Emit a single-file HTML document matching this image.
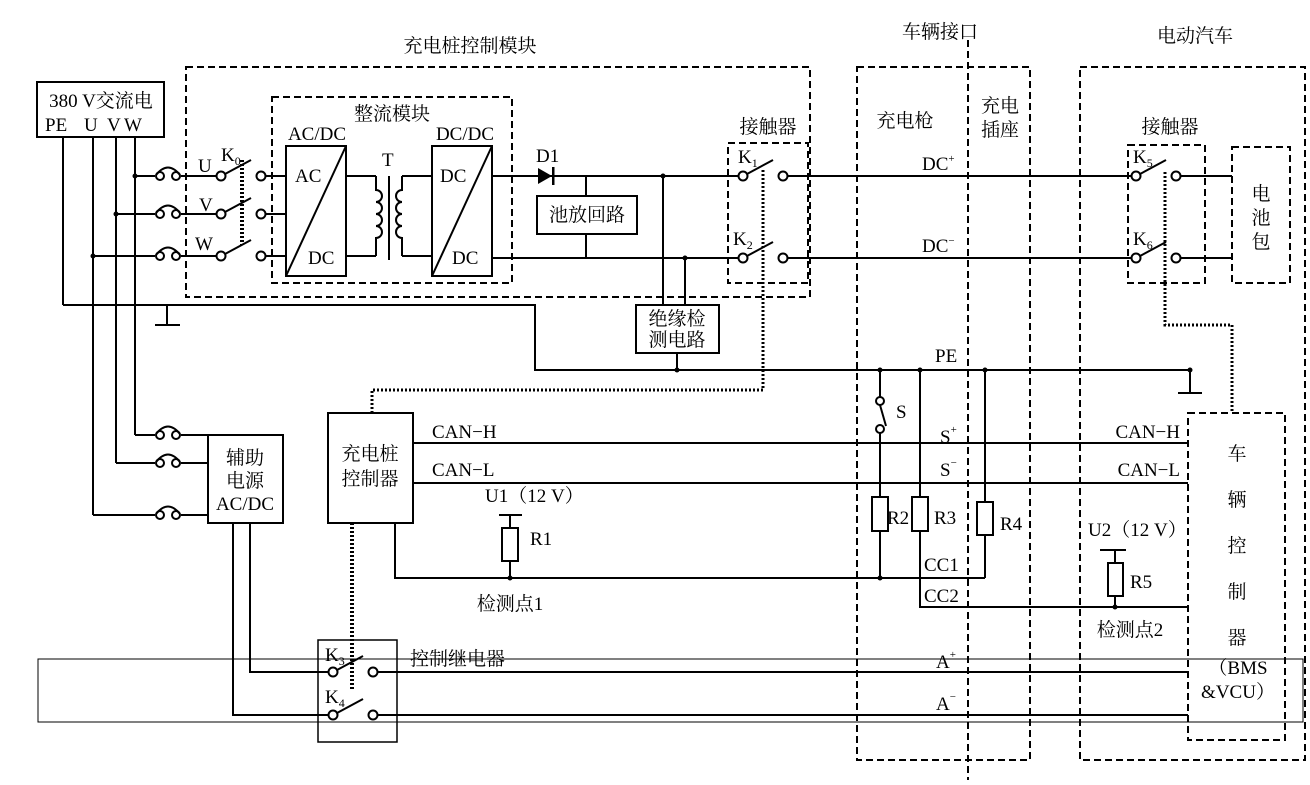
<!DOCTYPE html>
<html><head><meta charset="utf-8"><style>
body{margin:0;background:#fff}
svg text{font-family:"Liberation Serif","Noto Serif CJK SC","Noto Sans CJK SC",serif;fill:#000}
</style></head><body>
<svg width="1310" height="780" viewBox="0 0 1310 780" xmlns="http://www.w3.org/2000/svg" font-size="19">
<defs>
<g id="fuse"><circle cx="0" cy="0" r="4" fill="#fff" stroke="#000" stroke-width="2"/><circle cx="16" cy="0" r="4" fill="#fff" stroke="#000" stroke-width="2"/><path d="M-4 -1 Q8 -16 20 -1" fill="none" stroke="#000" stroke-width="2"/></g>
<g id="sw"><circle cx="0" cy="0" r="4.5" fill="#fff" stroke="#000" stroke-width="2"/><circle cx="40" cy="0" r="4.5" fill="#fff" stroke="#000" stroke-width="2"/><line x1="4" y1="-2" x2="30" y2="-16" stroke="#000" stroke-width="2"/></g>
</defs>
<g fill="none" stroke="#000" stroke-width="2">
<rect x="37" y="82" width="127" height="55"/>
<line x1="63" y1="137" x2="63" y2="305"/>
<line x1="93" y1="137" x2="93" y2="515"/>
<line x1="116" y1="137" x2="116" y2="463"/>
<line x1="135" y1="137" x2="135" y2="435"/>
<line x1="135" y1="176" x2="155" y2="176"/><line x1="116" y1="214" x2="155" y2="214"/><line x1="93" y1="256" x2="155" y2="256"/>
<line x1="181" y1="176" x2="216" y2="176"/><line x1="181" y1="214" x2="216" y2="214"/><line x1="181" y1="256" x2="216" y2="256"/>
<rect x="186" y="67" width="624" height="230" stroke-dasharray="7,4"/>
<rect x="272" y="97" width="240" height="186" stroke-dasharray="7,4"/>
<line x1="263" y1="176" x2="286" y2="176"/><line x1="263" y1="214" x2="286" y2="214"/><line x1="263" y1="256" x2="286" y2="256"/>
<rect x="286" y="146" width="60" height="130"/><line x1="286" y1="276" x2="346" y2="146"/>
<rect x="432" y="146" width="60" height="130"/><line x1="432" y1="276" x2="492" y2="146"/>
<path d="M346 176 H376 M346 256 H376 M376 176 V190 a5 5 0 0 1 0 12 a5 5 0 0 1 0 12 a5 5 0 0 1 0 12 a5 5 0 0 1 0 12 V256"/>
<path d="M432 176 H402 M432 256 H402 M402 176 V190 a5 5 0 0 0 0 12 a5 5 0 0 0 0 12 a5 5 0 0 0 0 12 a5 5 0 0 0 0 12 V256"/>
<line x1="389" y1="176" x2="389" y2="260"/>
<line x1="492" y1="176" x2="738" y2="176"/><line x1="492" y1="258" x2="738" y2="258"/>
<line x1="586" y1="176" x2="586" y2="196"/><line x1="586" y1="234" x2="586" y2="258"/>
<rect x="537" y="196" width="100" height="38"/>
<line x1="663" y1="176" x2="663" y2="305"/><line x1="685" y1="258" x2="685" y2="305"/>
<rect x="636" y="305" width="83" height="48"/>
<line x1="677" y1="353" x2="677" y2="370"/>
<rect x="728" y="143" width="80" height="140" stroke-dasharray="7,4"/>
<line x1="786" y1="176" x2="1131" y2="176"/><line x1="786" y1="258" x2="1131" y2="258"/>
<path d="M763 170 V390 H372 V413" stroke-dasharray="2,2" stroke-width="3"/>
<path d="M242 160 V245" stroke-dasharray="2,2" stroke-width="4"/>
<path d="M63 305 H535 V370 H1190 V393"/>
<line x1="1178" y1="393" x2="1202" y2="393"/>
<line x1="167" y1="305" x2="167" y2="325"/><line x1="155" y1="325" x2="180" y2="325"/>
<rect x="857" y="67" width="173" height="693" stroke-dasharray="7,4"/>
<line x1="968" y1="40" x2="968" y2="780" stroke-dasharray="7,4"/>
<rect x="1080" y="67" width="225" height="693" stroke-dasharray="7,4"/>
<rect x="1128" y="145" width="77" height="138" stroke-dasharray="7,4"/>
<rect x="1232" y="147" width="58" height="136" stroke-dasharray="7,4"/>
<line x1="1176" y1="176" x2="1232" y2="176"/><line x1="1176" y1="258" x2="1232" y2="258"/>
<path d="M1165 172 V325 H1232 V413" stroke-dasharray="2,2" stroke-width="3"/>
<rect x="1188" y="413" width="97" height="327" stroke-dasharray="7,4"/>
<line x1="135" y1="435" x2="155" y2="435"/><line x1="116" y1="463" x2="155" y2="463"/><line x1="93" y1="515" x2="155" y2="515"/>
<line x1="181" y1="435" x2="208" y2="435"/><line x1="181" y1="463" x2="208" y2="463"/><line x1="181" y1="515" x2="208" y2="515"/>
<rect x="208" y="435" width="75" height="88"/>
<rect x="328" y="413" width="85" height="110"/>
<line x1="413" y1="443" x2="1188" y2="443"/><line x1="413" y1="483" x2="1188" y2="483"/>
<path d="M395 523 V578 H985"/>
<line x1="499" y1="515" x2="522" y2="515"/><line x1="510" y1="515" x2="510" y2="528"/>
<rect x="502" y="528" width="16" height="33"/><line x1="510" y1="561" x2="510" y2="578"/>
<line x1="880" y1="370" x2="880" y2="400"/><circle cx="880" cy="401" r="4" fill="#fff"/><circle cx="880" cy="429" r="4" fill="#fff"/><line x1="880" y1="405" x2="886" y2="426"/>
<line x1="880" y1="433" x2="880" y2="497"/><rect x="872" y="497" width="16" height="34"/><line x1="880" y1="531" x2="880" y2="578"/>
<line x1="920" y1="370" x2="920" y2="497"/><rect x="912" y="497" width="16" height="34"/><path d="M920 531 V607 H1188"/>
<line x1="985" y1="370" x2="985" y2="502"/><rect x="977" y="502" width="16" height="33"/><line x1="985" y1="535" x2="985" y2="578"/>
<line x1="1100" y1="550" x2="1126" y2="550"/><line x1="1115" y1="550" x2="1115" y2="563"/>
<rect x="1108" y="563" width="15" height="33"/><line x1="1115" y1="596" x2="1115" y2="607"/>
<path d="M250 523 V672 H329"/><path d="M233 523 V715 H329"/>
<line x1="378" y1="672" x2="1188" y2="672"/><line x1="378" y1="715" x2="1188" y2="715"/>
<rect x="318" y="640" width="79" height="102" stroke-width="1.5"/>
<path d="M352 523 V690" stroke-dasharray="2,2" stroke-width="4"/>
<rect x="38" y="659" width="1265" height="63" stroke-width="1"/>
</g>
<g fill="#000">
<circle cx="135" cy="176" r="2.5"/><circle cx="116" cy="214" r="2.5"/><circle cx="93" cy="256" r="2.5"/>
<circle cx="663" cy="176" r="2.5"/><circle cx="685" cy="258" r="2.5"/><circle cx="677" cy="370" r="2.5"/>
<circle cx="880" cy="370" r="2.5"/><circle cx="920" cy="370" r="2.5"/><circle cx="985" cy="370" r="2.5"/><circle cx="1190" cy="370" r="2.5"/>
<circle cx="880" cy="578" r="2.5"/><circle cx="510" cy="578" r="2.5"/><circle cx="1115" cy="607" r="2.5"/>
<path d="M538 168 L552 176 L538 184 Z"/><rect x="552" y="167" width="2.5" height="18"/>
</g>
<use href="#fuse" x="160" y="176"/><use href="#fuse" x="160" y="214"/><use href="#fuse" x="160" y="256"/>
<use href="#fuse" x="160" y="435"/><use href="#fuse" x="160" y="463"/><use href="#fuse" x="160" y="515"/>
<use href="#sw" x="221" y="176"/><use href="#sw" x="221" y="214"/><use href="#sw" x="221" y="256"/>
<use href="#sw" x="743" y="176"/><use href="#sw" x="743" y="258"/>
<use href="#sw" x="1136" y="176"/><use href="#sw" x="1136" y="258"/>
<use href="#sw" x="333" y="672"/><use href="#sw" x="333" y="715"/>
<text x="470" y="52" text-anchor="middle">充电桩控制模块</text>
<text x="940" y="38" text-anchor="middle">车辆接口</text>
<text x="1195" y="42" text-anchor="middle">电动汽车</text>
<text x="101" y="107" text-anchor="middle">380 V交流电</text>
<text x="45" y="131">PE</text><text x="84" y="131">U</text><text x="107" y="131">V</text><text x="124" y="131">W</text>
<text x="198" y="172">U</text><text x="199" y="211">V</text><text x="195" y="250">W</text>
<text x="221" y="161">K<tspan font-size="12" dy="4">0</tspan></text>
<text x="392" y="120" text-anchor="middle">整流模块</text>
<text x="317" y="140" text-anchor="middle">AC/DC</text><text x="465" y="140" text-anchor="middle">DC/DC</text>
<text x="295" y="182">AC</text><text x="308" y="264">DC</text>
<text x="440" y="182">DC</text><text x="452" y="264">DC</text>
<text x="382" y="166">T</text>
<text x="536" y="162">D1</text>
<text x="587" y="221" text-anchor="middle">池放回路</text>
<text x="677" y="325" text-anchor="middle">绝缘检</text><text x="677" y="346" text-anchor="middle">测电路</text>
<text x="768" y="133" text-anchor="middle">接触器</text>
<text x="738" y="163">K<tspan font-size="12" dy="4">1</tspan></text>
<text x="733" y="245">K<tspan font-size="12" dy="4">2</tspan></text>
<text x="905" y="127" text-anchor="middle">充电枪</text>
<text x="1000" y="112" text-anchor="middle">充电</text><text x="1000" y="136" text-anchor="middle">插座</text>
<text x="922" y="170">DC<tspan font-size="11" dy="-8">+</tspan></text>
<text x="922" y="252">DC<tspan font-size="11" dy="-8">−</tspan></text>
<text x="1170" y="133" text-anchor="middle">接触器</text>
<text x="1133" y="163">K<tspan font-size="12" dy="4">5</tspan></text>
<text x="1133" y="245">K<tspan font-size="12" dy="4">6</tspan></text>
<text x="1261" y="200" text-anchor="middle">电</text><text x="1261" y="224" text-anchor="middle">池</text><text x="1261" y="248" text-anchor="middle">包</text>
<text x="935" y="362">PE</text>
<text x="896" y="418">S</text>
<text x="940" y="443">S<tspan font-size="11" dy="-10">+</tspan></text>
<text x="940" y="476">S<tspan font-size="11" dy="-10">−</tspan></text>
<text x="1180" y="438" text-anchor="end">CAN−H</text><text x="1180" y="476" text-anchor="end">CAN−L</text>
<text x="432" y="438">CAN−H</text><text x="432" y="476">CAN−L</text>
<text x="245" y="464" text-anchor="middle">辅助</text><text x="245" y="487" text-anchor="middle">电源</text><text x="245" y="510" text-anchor="middle">AC/DC</text>
<text x="370" y="460" text-anchor="middle">充电桩</text><text x="370" y="485" text-anchor="middle">控制器</text>
<text x="485" y="502">U1（12 V）</text>
<text x="530" y="545">R1</text>
<text x="510" y="610" text-anchor="middle">检测点1</text>
<text x="887" y="524">R2</text><text x="934" y="524">R3</text><text x="1000" y="530">R4</text>
<text x="924" y="571">CC1</text><text x="924" y="602">CC2</text>
<text x="1088" y="536">U2（12 V）</text>
<text x="1130" y="588">R5</text>
<text x="1130" y="636" text-anchor="middle">检测点2</text>
<text x="1237" y="460" text-anchor="middle">车</text><text x="1237" y="506" text-anchor="middle">辆</text><text x="1237" y="552" text-anchor="middle">控</text><text x="1237" y="598" text-anchor="middle">制</text><text x="1237" y="644" text-anchor="middle">器</text>
<text x="1238" y="674" text-anchor="middle">（BMS</text><text x="1238" y="698" text-anchor="middle">&amp;VCU）</text>
<text x="936" y="668">A<tspan font-size="11" dy="-10">+</tspan></text>
<text x="936" y="710">A<tspan font-size="11" dy="-10">−</tspan></text>
<text x="325" y="661">K<tspan font-size="12" dy="4">3</tspan></text>
<text x="325" y="703">K<tspan font-size="12" dy="4">4</tspan></text>
<text x="410" y="665">控制继电器</text>
</svg>
</body></html>
